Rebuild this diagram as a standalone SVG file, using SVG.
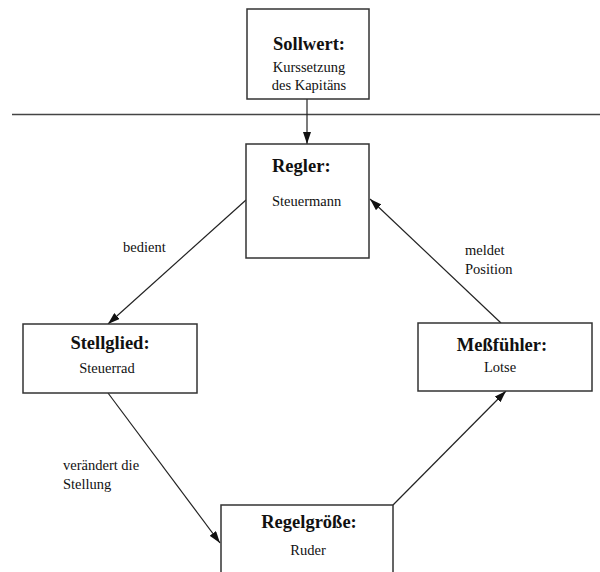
<svg xmlns="http://www.w3.org/2000/svg" width="600" height="572" viewBox="0 0 600 572">
<style>
.box{fill:#fff;stroke:#333;stroke-width:1.5}
.t{font-family:"Liberation Serif","Times New Roman",serif;font-size:18.5px;font-weight:bold;fill:#111}
.s{font-family:"Liberation Serif","Times New Roman",serif;font-size:14.5px;fill:#111}
.c{stroke:#222;stroke-width:1.2;fill:none;marker-end:url(#ah)}
</style>
<defs>
<marker id="ah" viewBox="0 0 12 8" refX="12" refY="4" markerWidth="12" markerHeight="8" markerUnits="userSpaceOnUse" orient="auto">
<path d="M0,0 L12,4 L0,8 Z" fill="#111"/>
</marker>
</defs>
<rect width="600" height="572" fill="#fff"/>
<line x1="12" y1="114.5" x2="600" y2="114.5" stroke="#444" stroke-width="1.5"/>
<g id="connectors">
<line class="c" x1="307" y1="99" x2="307" y2="144"/>
<line class="c" x1="246" y1="200" x2="108" y2="324"/>
<line class="c" x1="108" y1="393" x2="220" y2="543"/>
<line class="c" x1="393" y1="505" x2="506" y2="391"/>
<line class="c" x1="501" y1="323" x2="370" y2="199"/>
<text class="s" x="123" y="252">bedient</text>
<text class="s" x="465" y="255">meldet</text>
<text class="s" x="465" y="274">Position</text>
<text class="s" x="63" y="470">verändert die</text>
<text class="s" x="63" y="489">Stellung</text>
</g>
<g id="sollwert">
<rect class="box" x="247" y="9" width="122" height="90"/>
<text class="t" x="309" y="50" text-anchor="middle">Sollwert:</text>
<text class="s" x="309" y="72" text-anchor="middle">Kurssetzung</text>
<text class="s" x="309" y="90" text-anchor="middle">des Kapitäns</text>
</g>
<g id="regler">
<rect class="box" x="246" y="144" width="123" height="114"/>
<text class="t" x="272" y="172">Regler:</text>
<text class="s" x="272" y="206">Steuermann</text>
</g>
<g id="stellglied">
<rect class="box" x="23" y="324" width="174" height="69"/>
<text class="t" x="110" y="349" text-anchor="middle">Stellglied:</text>
<text class="s" x="107" y="373" text-anchor="middle">Steuerrad</text>
</g>
<g id="messfuehler">
<rect class="box" x="418" y="323" width="174" height="68"/>
<text class="t" x="502" y="351" text-anchor="middle">Meßfühler:</text>
<text class="s" x="500" y="372" text-anchor="middle">Lotse</text>
</g>
<g id="regelgroesse">
<rect class="box" x="221" y="505" width="172" height="80"/>
<text class="t" x="309" y="528" text-anchor="middle">Regelgröße:</text>
<text class="s" x="308" y="555" text-anchor="middle">Ruder</text>
</g>
</svg>
